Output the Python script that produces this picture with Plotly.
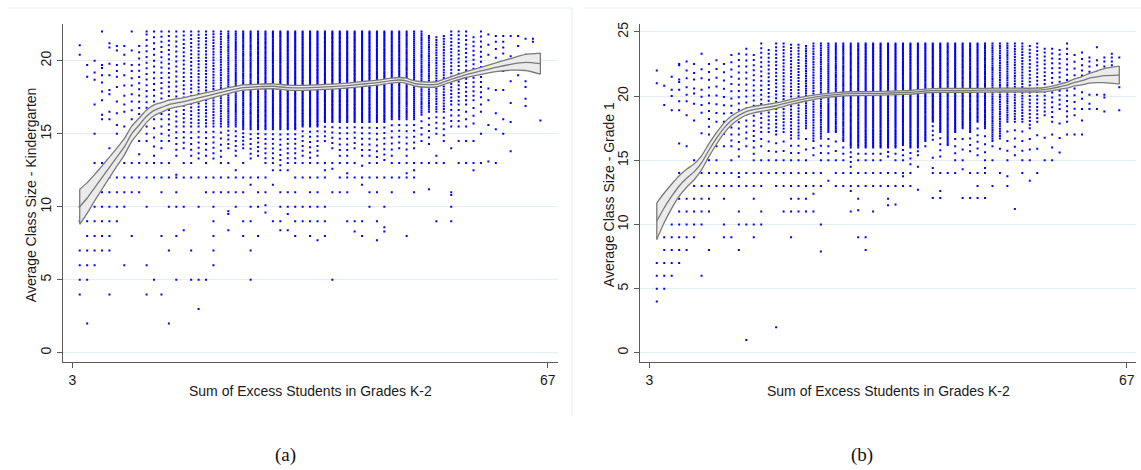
import numpy as np
import plotly.graph_objects as go

# ---------------- DATA ----------------
cols = list(range(4, 67))  # excess-student columns 4..66

# ===== Panel (a): Kindergarten =====
# dense vertical bands of points, columns 12..58
k_band_x = list(range(12, 59))
k_top = [21, 21.8, 22, 22, 22, 22, 22, 22, 22, 22,          # 12-21
         22, 22, 22, 22, 22, 22, 22, 22, 22, 22,            # 22-31
         22, 22, 22, 22, 22, 22, 22, 22, 22, 22,            # 32-41
         22, 22, 22, 22, 22, 22, 22, 22, 22, 21.7,          # 42-51
         21.6, 21.7, 22, 22, 22, 21.6, 22]                  # 52-58
k_core_lo = [15.5, 16, 16, 16, 16, 15.5, 15.5, 15.5, 15.5, 15.5,       # 12-21
             15.5, 15.5, 15.5, 15.5, 15.3, 15.3, 15.3, 15.3, 15.3, 15.3,  # 22-31
             15.3, 15.3, 15.5, 15.5, 15.5, 15.8, 15.8, 15.8, 15.8, 15.8,  # 32-41
             15.8, 15.8, 15.8, 15.8, 16, 16, 16, 16, 16.3, 16.5,          # 42-51
             16.5, 16.5, 17, 17, 17, 17.3, 17.5]                          # 52-58
k_n_core = [14, 16, 16, 18, 20, 20, 24, 26, 30, 30,   # 12-21
            34, 38, 44, 50, 55, 55, 60, 60, 65, 65,   # 22-31
            70, 70, 70, 70, 70, 70, 70, 70, 70, 65,   # 32-41
            65, 65, 60, 60, 55, 55, 50, 45, 40, 35,   # 42-51
            30, 28, 22, 20, 18, 15, 14]               # 52-58
k_tail_lo = [15.5, 14.5, 13.5, 14, 14.5, 13.5, 14, 13.5, 13.3, 13.5,   # 12-21
             13.3, 13, 14, 13.5, 14, 13.3, 13.5, 13, 13, 12.5,         # 22-31
             13, 13, 13.5, 13, 13.5, 14.5, 14, 13.5, 13.5, 14,         # 32-41
             13.5, 13.5, 13, 13.2, 13.5, 14, 13.5, 14, 14.5, 14.3,     # 42-51
             15, 14.5, 15.5, 15.5, 15.5, 15.7, 16.5]                   # 52-58
k_n_tail = [0, 3, 4, 4, 4, 5, 4, 5, 6, 5,     # 12-21
            6, 6, 5, 6, 5, 6, 6, 7, 7, 8,     # 22-31
            7, 7, 6, 7, 6, 4, 5, 6, 6, 5,     # 32-41
            6, 6, 7, 7, 6, 5, 6, 5, 4, 5,     # 42-51
            4, 5, 4, 4, 3, 3, 2]              # 52-58
# individual scattered points, one list per column 4..66
k_extra = [
    [21.05, 20.4, 10.0, 9.0, 7, 6, 5, 4],                                   # 4
    [19.7, 18.9, 10, 9, 8, 7, 6, 5, 2],                                     # 5
    [20, 19.2, 18.7, 17, 15, 13, 10, 9, 8, 7, 6],                           # 6
    [22, 19.7, 19.5, 19, 18.5, 17.9, 17.3, 16.3, 16, 13, 12, 11, 10, 9, 8, 7],  # 7
    [21.2, 20.9, 19.8, 19, 18, 17.7, 16.5, 16, 14, 13, 12, 11, 10, 9, 8, 7, 4],  # 8
    [21, 20.7, 19.7, 19.3, 18.9, 18.2, 17.2, 16.4, 15.6, 15, 13, 12, 11, 10, 9],  # 9
    [21, 20.4, 19.8, 19, 18.3, 17.6, 17, 16.5, 15.5, 13, 12, 11, 10, 6],    # 10
    [22, 20.7, 19.7, 19.3, 18.8, 18.3, 17.7, 17.2, 16.6, 16, 13, 12, 11, 8],  # 11
    [14.5, 13.6, 13, 12, 11],        # 12
    [22, 13, 12, 10, 6, 4],          # 13
    [13, 12, 5],                     # 14
    [13, 12, 11, 8, 4],              # 15
    [13, 12, 10, 7, 2],              # 16
    [12.2, 12, 11, 10, 8, 5],        # 17
    [13, 12, 10, 8.4],               # 18
    [13, 12, 7, 5],                  # 19
    [12, 10, 5, 3],                  # 20
    [13, 12, 11, 5],                 # 21
    [12, 11, 10, 9, 8, 7, 6],        # 22
    [12, 11],                        # 23
    [13, 12, 11, 9.7, 9.5, 8.4],     # 24
    [12.5, 12, 11, 10],              # 25
    [13, 12, 11, 9, 8],              # 26
    [12, 11.5, 10, 9, 7, 5],         # 27
    [12, 11, 10, 8],                 # 28
    [12, 11, 10.1, 9.6],             # 29
    [12.5, 11.5, 9],                 # 30
    [11, 10, 9, 8.4],                # 31
    [12.5, 11, 10, 9.5, 8.4],        # 32
    [12, 11, 10, 9, 8],              # 33
    [13, 12, 10, 9],                 # 34
    [12, 11, 10, 9, 8],              # 35
    [13, 12, 11, 10, 9, 7.7],        # 36
    [13, 12.5, 12, 10, 9, 8],        # 37
    [13, 12.6, 11, 5],               # 38
    [13, 12, 11],                    # 39
    [13, 12.3, 12, 11, 9],           # 40
    [13, 12, 9, 8.3],                # 41
    [12.8, 12, 11.5, 9, 8],          # 42
    [13, 12, 11, 10],                # 43
    [12, 11, 9, 7.7],                # 44
    [12, 10, 8.6, 8.3],              # 45
    [13, 12, 11],                    # 46
    [13, 12],                        # 47
    [13, 12.3, 12, 8],               # 48
    [13, 12.5, 12, 11],              # 49
    [13],                            # 50
    [13, 11.2],                      # 51
    [13.5, 13, 9],                   # 52
    [13],                            # 53
    [14, 11, 10.8, 10, 9],           # 54
    [14.5, 13],                      # 55
    [14.5, 13],                      # 56
    [14.5, 13, 12.5],                # 57
    [15, 13],                        # 58
    [21.8, 21.1, 20.4, 19.3, 18.1, 17.3, 15.6, 13.1],       # 59
    [21.7, 21.3, 20.8, 20.2, 19.5, 18, 16.4, 15.3, 13],     # 60
    [21.7, 21.3, 20.9, 20.5, 19.3, 18.0, 16.0, 15.0],       # 61
    [21.7, 20.3, 18.6, 17.1, 15.8, 13.8],                   # 62
    [21.7, 21.0, 20.2, 19.0],                               # 63
    [21.5, 20.4, 18.6, 18.2, 17.4, 16.9],                   # 64
    [21.5, 21.3],                                           # 65
    [15.9],                                                 # 66
]

# smoothed fit with confidence band, panel (a)
k_fit_x = [4, 5, 6, 7, 8, 9, 10, 11, 12, 13, 14, 15, 16, 18, 20, 22, 24, 26, 28, 30, 32, 34, 36, 38, 40, 42,
           44, 46, 47, 48, 49, 50, 52, 53, 54, 56, 58, 60, 62, 64, 66]
k_fit = [10.0, 10.6, 11.3, 12.0, 12.7, 13.4, 14.1, 15.0, 15.6, 16.2, 16.6, 16.8, 17.0, 17.2, 17.45, 17.7, 17.95, 18.16,
         18.22, 18.25, 18.16, 18.14, 18.18, 18.23, 18.3, 18.4, 18.5, 18.64, 18.68, 18.62, 18.45, 18.38, 18.38, 18.55,
         18.72, 19.05, 19.3, 19.55, 19.75, 19.88, 19.8]
k_hw = [1.2, 1.05, 0.9, 0.8, 0.7, 0.62, 0.56, 0.52, 0.48, 0.42, 0.37, 0.33, 0.3, 0.27, 0.25, 0.22, 0.2, 0.18,
        0.17, 0.17, 0.17, 0.17, 0.17, 0.17, 0.17, 0.17, 0.17, 0.17, 0.17, 0.18, 0.18, 0.18, 0.18, 0.18, 0.18,
        0.2, 0.24, 0.3, 0.4, 0.55, 0.72]

# ===== Panel (b): Grade 1 =====
g_band_x = list(range(11, 61))
g_top = [22.5, 22.8, 22.5, 23.2, 23.3, 23.7, 23.2, 24.1, 23.6, 24.1,   # 11-20
         24.1, 24, 24, 23.9, 24.1, 24.1, 24.1, 24.1, 24.1, 24.1,       # 21-30
         24.1, 24.1, 24.1, 24.1, 24.1, 24.1, 24.1, 24.1, 24.1, 24.1,   # 31-40
         24.1, 24.1, 24.1, 24.1, 24.1, 24.1, 24.1, 24.1, 24.1, 24.1,   # 41-50
         24.1, 24.1, 24.1, 23.9, 24.1, 23.7, 23.7, 23.6, 24.1, 23.2]   # 51-60
g_core_lo = [17, 18, 18, 17, 17, 16.7, 16.5, 17.2, 17.2, 17,           # 11-20
             17.2, 16.7, 16.7, 17.5, 16.5, 16.7, 17.2, 17.2, 16.5, 16,   # 21-30
             16, 16, 16, 16, 16, 16, 16.2, 16, 16, 16.5,                 # 31-40
             18, 17.2, 16.2, 17.2, 17.5, 17.2, 18, 17.5, 16.5, 16.7,     # 41-50
             18, 18, 18, 17.5, 18, 18.5, 18, 19, 18, 18.5]               # 51-60
g_n_core = [10, 8, 8, 12, 14, 16, 18, 20, 22, 26,    # 11-20
            28, 30, 32, 34, 38, 42, 45, 50, 55, 60,  # 21-30
            65, 70, 70, 70, 70, 70, 70, 70, 70, 65,  # 31-40
            65, 60, 60, 60, 55, 55, 50, 50, 45, 40,  # 41-50
            35, 30, 28, 24, 22, 18, 16, 14, 16, 10]  # 51-60
g_tail_lo = [17, 16.1, 16.1, 16.1, 15.3, 16.1, 15, 16.1, 15, 15,       # 11-20
             15, 15, 15, 15, 15.4, 15, 15, 15, 15, 14.5,               # 21-30
             15, 15, 15, 15, 15.3, 15, 15, 14.7, 15.4, 16.1,           # 31-40
             16.6, 15.3, 16.2, 15, 15, 15.7, 15.4, 15, 16.1, 15.9,     # 41-50
             15, 15.4, 15, 15, 15.9, 15, 15, 15.6, 17, 17]             # 51-60
g_n_tail = [0, 2, 2, 2, 3, 1, 3, 2, 3, 3,   # 11-20
            3, 3, 3, 3, 2, 3, 4, 3, 3, 4,   # 21-30
            2, 2, 2, 2, 2, 2, 3, 3, 2, 1,   # 31-40
            4, 4, 0, 4, 3, 3, 5, 4, 1, 1,   # 41-50
            4, 4, 4, 3, 2, 2, 3, 3, 1, 1]   # 51-60
g_extra = [
    [22.0, 21.0, 7, 6, 5, 4],                                                  # 4
    [20.8, 19.3, 9, 8, 7, 6, 5],                                               # 5
    [21.5, 20.5, 20.0, 18.9, 10, 9, 8, 7, 6],                                  # 6
    [22.5, 22.4, 21.3, 21.1, 20.5, 19.6, 18.9, 16.3, 14, 13, 12, 11, 10, 9, 8, 7],  # 7
    [22.7, 22.0, 21.4, 20.7, 20.1, 19.6, 18.5, 16.1, 14, 13, 12, 11, 10, 9, 8],     # 8
    [22.5, 21.8, 21.3, 20.6, 20.2, 19.4, 18.1, 15, 14, 13, 12, 11, 10, 9],          # 9
    [23.3, 22.1, 21.4, 20.5, 19.96, 19.3, 18.7, 17.1, 15, 14, 13, 12, 11, 10, 6],   # 10
    [15, 14, 13, 12, 11, 8],         # 11
    [15, 14, 13],                    # 12
    [14, 13, 12, 10, 9],             # 13
    [15, 14, 13, 9],                 # 14
    [14, 13.7, 13, 11, 10, 8],       # 15
    [14, 13, 10, 1],                 # 16
    [14, 13, 12, 10, 9],             # 17
    [15, 14, 13, 11, 10],            # 18
    [14],                            # 19
    [14, 13, 2],                     # 20
    [14, 13, 11],                    # 21
    [14, 13, 12, 11, 9],             # 22
    [14, 13, 12, 11],                # 23
    [14, 13, 12, 11],                # 24
    [14, 13, 12.4, 11],              # 25
    [14, 13, 10, 7.9],               # 26
    [13.4],                          # 27
    [14, 13],                        # 28
    [14, 13],                        # 29
    [14, 13, 12.6, 11],              # 30
    [14, 13, 12, 11.1, 9],           # 31
    [14, 13, 9, 8],                  # 32
    [14, 13, 11],                    # 33
    [14, 13],                        # 34
    [14, 13, 12, 11.5],              # 35
    [14, 13, 11.55],                 # 36
    [14, 13.75, 13],                 # 37
    [14, 13],                        # 38
    [14.5, 12.7],                    # 39
    [],                              # 40
    [15.2, 14.4, 14, 12.07],         # 41
    [14, 12.6, 12.07],               # 42
    [14],                            # 43
    [14],                            # 44
    [14.3, 12.07],                   # 45
    [14, 12.07],                     # 46
    [14, 13, 12.07],                 # 47
    [14.4, 14, 12.07],               # 48
    [15, 13],                        # 49
    [14],                            # 50
    [13.75, 13],                     # 51
    [11.2],                          # 52
    [14],                            # 53
    [13.4],                          # 54
    [14],                            # 55
    [],                              # 56
    [],                              # 57
    [],                              # 58
    [],                              # 59
    [],                              # 60
    [23.4, 22.9, 22.4, 22.0, 21.6, 20.3, 19.8, 19.0, 18.1, 17.0],  # 61
    [23.0, 22.7, 22.3, 21.9, 21.5, 20.1, 19.4, 19.0],              # 62
    [23.8, 22.8, 22.4, 21.9, 20.1, 19.0],                          # 63
    [23.0, 22.7, 22.3, 21.9, 20.1, 19.9, 18.8],                    # 64
    [23.3, 23.0, 22.7, 22.4],                                      # 65
    [23.0, 20.7, 18.9],                                            # 66
]

g_fit_x = [4, 5, 6, 7, 8, 9, 10, 11, 12, 13, 14, 15, 16, 17, 18, 20, 22, 24, 26, 28, 30, 34, 38, 40, 42, 46, 50,
           55, 56, 57, 58, 59, 60, 61, 62, 63, 64, 66]
g_fit = [10.26, 11.3, 12.2, 13.0, 13.6, 14.1, 14.8, 15.8, 16.7, 17.5, 18.1, 18.5, 18.8, 18.95, 19.05, 19.25, 19.55,
         19.8, 20.0, 20.12, 20.19, 20.22, 20.3, 20.4, 20.45, 20.45, 20.47, 20.47, 20.5, 20.6, 20.73, 20.86, 21.07,
         21.2, 21.4, 21.5, 21.6, 21.64]
g_hw = [1.43, 1.15, 0.95, 0.8, 0.7, 0.62, 0.55, 0.5, 0.45, 0.4, 0.35, 0.3, 0.27, 0.25, 0.24, 0.22, 0.2, 0.18,
        0.15, 0.15, 0.15, 0.15, 0.15, 0.15, 0.15, 0.15, 0.15, 0.15, 0.17, 0.18, 0.2, 0.23, 0.27, 0.32, 0.38, 0.45,
        0.55, 0.7]

x_ticks = [3, 67]
k_yticks = [0, 5, 10, 15, 20]
g_yticks = [0, 5, 10, 15, 20, 25]
x_title = "Sum of Excess Students in Grades K-2"
k_ytitle = "Average Class Size - Kindergarten"
g_ytitle = "Average Class Size - Grade 1"
captions = ["(a)", "(b)"]


# ---------------- BUILD ----------------
def build_points(band_x, top, core_lo, n_core, tail_lo, n_tail, extra):
    xs, ys = [], []
    for x, vals in zip(cols, extra):
        xs += [x] * len(vals)
        ys += list(vals)
    for x, t, c, nc, tl, nt in zip(band_x, top, core_lo, n_core, tail_lo, n_tail):
        vals = []
        if nc > 0:
            vals += list(np.linspace(t, c, nc))
        if nt > 0:
            vals += list(np.linspace(c, tl, nt + 1)[1:])
        xs += [x] * len(vals)
        ys += vals
    return xs, ys


W, H = 1141, 470
def px(x):
    return x / W
def py(y):
    return 1 - y / H

fig = go.Figure()

BLUE = "#0000ff"
EDGE = "#7a7a7a"
FILL = "#ebebeb"

panels = [
    dict(pts=build_points(k_band_x, k_top, k_core_lo, k_n_core, k_tail_lo, k_n_tail, k_extra),
         fx=k_fit_x, fy=k_fit, hw=k_hw, xa="x", ya="y"),
    dict(pts=build_points(g_band_x, g_top, g_core_lo, g_n_core, g_tail_lo, g_n_tail, g_extra),
         fx=g_fit_x, fy=g_fit, hw=g_hw, xa="x2", ya="y2"),
]

for p in panels:
    xs, ys = p["pts"]
    fig.add_trace(go.Scatter(x=xs, y=ys, mode="markers", xaxis=p["xa"], yaxis=p["ya"],
                             marker=dict(color=BLUE, size=2, symbol="square", line=dict(width=0)),
                             hoverinfo="skip", showlegend=False))
    fy = np.array(p["fy"]); hw = np.array(p["hw"])
    lo = fy - hw; hi = fy + hw
    fig.add_trace(go.Scatter(x=p["fx"], y=lo, mode="lines", xaxis=p["xa"], yaxis=p["ya"],
                             line=dict(color=EDGE, width=1.3, shape="spline", smoothing=0.6),
                             hoverinfo="skip", showlegend=False))
    fig.add_trace(go.Scatter(x=p["fx"], y=hi, mode="lines", xaxis=p["xa"], yaxis=p["ya"],
                             fill="tonexty", fillcolor=FILL,
                             line=dict(color=EDGE, width=1.3, shape="spline", smoothing=0.6),
                             hoverinfo="skip", showlegend=False))
    for j in (0, -1):
        fig.add_trace(go.Scatter(x=[p["fx"][j], p["fx"][j]], y=[lo[j], hi[j]], mode="lines",
                                 xaxis=p["xa"], yaxis=p["ya"], line=dict(color=EDGE, width=1.3),
                                 hoverinfo="skip", showlegend=False))
    fig.add_trace(go.Scatter(x=p["fx"], y=fy, mode="lines", xaxis=p["xa"], yaxis=p["ya"],
                             line=dict(color=EDGE, width=1.3, shape="spline", smoothing=0.6),
                             hoverinfo="skip", showlegend=False))

AX = "#5a5a5a"
GRID = "#e6eef1"
font_tick = dict(family="Liberation Sans, Arial, sans-serif", size=14, color="#1a1a1a")

xcommon = dict(showline=True, linecolor=AX, linewidth=1.4, ticks="outside", ticklen=5, tickcolor=AX,
               tickwidth=1, tickvals=x_ticks, ticktext=[str(v) for v in x_ticks], showgrid=False,
               zeroline=False, tickfont=font_tick, fixedrange=True)
ycommon = dict(showline=True, linecolor=AX, linewidth=1.4, ticks="outside", ticklen=5, tickcolor=AX,
               tickwidth=1, showgrid=True, gridcolor=GRID, gridwidth=1, zeroline=False,
               tickangle=-90, tickfont=font_tick, fixedrange=True)

y_dom = [py(361.7), py(21.7)]
fig.update_layout(
    width=W, height=H, margin=dict(l=0, r=0, t=0, b=0),
    paper_bgcolor="white", plot_bgcolor="white", showlegend=False,
    xaxis=dict(domain=[px(62.7), px(557.7)], range=[1.71, 68.33], anchor="y", **xcommon),
    yaxis=dict(domain=y_dom, range=[-0.64, 22.54], anchor="x", tickvals=k_yticks, **ycommon),
    xaxis2=dict(domain=[px(640), px(1135.7)], range=[1.75, 68.2], anchor="y2", **xcommon),
    yaxis2=dict(domain=y_dom, range=[-0.73, 25.65], anchor="x2", tickvals=g_yticks, **ycommon),
)

ann_font = dict(family="Liberation Sans, Arial, sans-serif", size=14, color="#1a1a1a")
cap_font = dict(family="Liberation Serif, DejaVu Serif, serif", size=19, color="#111")
annotations = [
    dict(x=px(31), y=py(194), text=k_ytitle, textangle=-90, showarrow=False,
         xref="paper", yref="paper", font=ann_font, xanchor="center", yanchor="middle"),
    dict(x=px(609), y=py(194), text=g_ytitle, textangle=-90, showarrow=False,
         xref="paper", yref="paper", font=ann_font, xanchor="center", yanchor="middle"),
    dict(x=px(310), y=py(391), text=x_title, showarrow=False, xref="paper", yref="paper",
         font=ann_font, xanchor="center", yanchor="middle"),
    dict(x=px(888), y=py(391), text=x_title, showarrow=False, xref="paper", yref="paper",
         font=ann_font, xanchor="center", yanchor="middle"),
    dict(x=px(285), y=py(455), text=captions[0], showarrow=False, xref="paper", yref="paper",
         font=cap_font, xanchor="center", yanchor="middle"),
    dict(x=px(862), y=py(455), text=captions[1], showarrow=False, xref="paper", yref="paper",
         font=cap_font, xanchor="center", yanchor="middle"),
]
fig.update_layout(annotations=annotations)

BORDER = "#e8eef0"
shapes = [
    dict(type="line", xref="paper", yref="paper", x0=px(7), x1=px(572), y0=py(6), y1=py(6),
         line=dict(color=BORDER, width=1)),
    dict(type="line", xref="paper", yref="paper", x0=px(572), x1=px(572), y0=py(6), y1=py(416),
         line=dict(color=BORDER, width=1)),
    dict(type="line", xref="paper", yref="paper", x0=px(584), x1=px(1141), y0=py(6), y1=py(6),
         line=dict(color=BORDER, width=1)),
]
fig.update_layout(shapes=shapes)

fig.write_html("out.html", config={"displayModeBar": False})
